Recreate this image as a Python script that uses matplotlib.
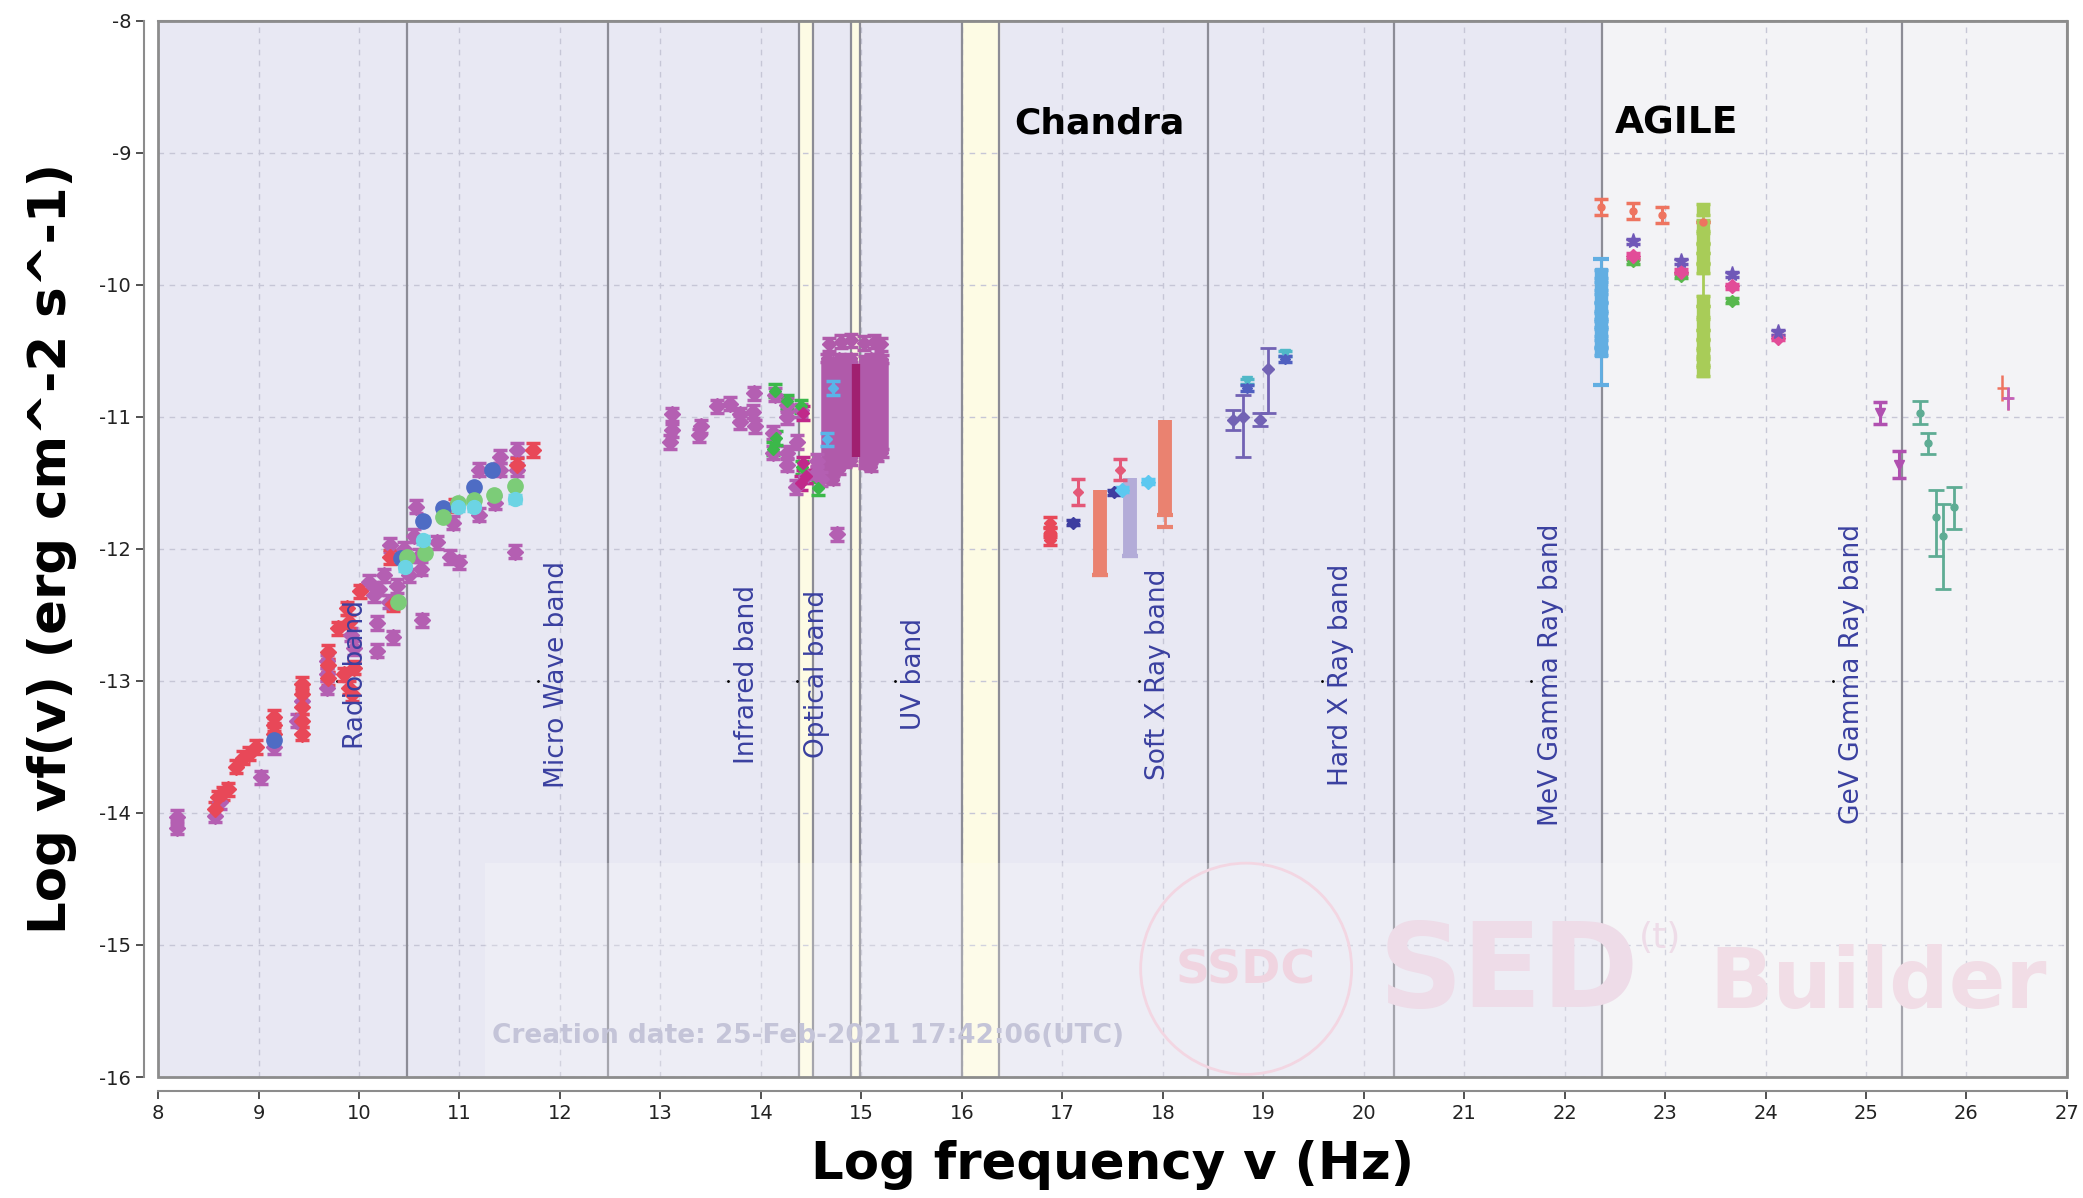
import matplotlib.pyplot as plt
from matplotlib.patches import Rectangle, Ellipse

plt.rcParams['axes.unicode_minus'] = False

# bandes (limites en log nu)
lignes_bandes = [10.48, 12.48, 14.38, 14.52, 14.9, 14.99, 16.0, 16.37, 18.45, 20.3, 22.37, 25.36]
bandes_jaunes = [(14.38, 14.52), (14.9, 14.99), (16.0, 16.37)]
noms_bandes = ["Radio band", "Micro Wave band", "Infrared band", "Optical band", "UV band",
               "Soft X Ray band", "Hard X Ray band", "MeV Gamma Ray band", "GeV Gamma Ray band"]
pos_bandes = [9.78, 11.78, 13.67, 14.36, 15.33, 17.76, 19.58, 21.67, 24.67]

# radio
radio_rouge_x = [8.57, 8.6, 8.65, 8.7, 8.78, 8.85, 8.9, 8.97, 9.15, 9.15, 9.15, 9.43, 9.43, 9.43, 9.43, 9.43,
                 9.69, 9.69, 9.69, 9.79, 9.88, 9.9, 9.95, 9.9, 10.01, 10.34, 10.31, 10.96, 11.57, 11.73, 9.93, 9.85]
radio_rouge_y = [-13.97, -13.88, -13.85, -13.82, -13.65, -13.58, -13.55, -13.5, -13.27, -13.33, -13.4, -13.02,
                 -13.1, -13.2, -13.3, -13.4, -12.78, -12.88, -12.98, -12.6, -12.45, -12.55, -12.9, -13.05,
                 -12.32, -12.42, -12.06, -11.67, -11.36, -11.25, -13.1, -12.95]
radio_violet_x = [8.19, 8.19, 8.57, 8.62, 9.02, 9.15, 9.38, 9.43, 9.68, 9.68, 9.68, 9.92, 9.95, 10.18, 10.18,
                  10.34, 10.1, 10.15, 10.2, 10.25, 10.3, 10.38, 10.31, 10.5, 10.57, 10.6, 10.62, 10.63, 10.78,
                  10.91, 11.0, 10.94, 11.19, 11.19, 11.35, 11.4, 11.4, 11.57, 11.57, 11.55, 10.45, 10.55]
radio_violet_y = [-14.03, -14.11, -14.02, -13.92, -13.73, -13.5, -13.3, -13.15, -12.85, -12.95, -13.05, -12.65,
                  -12.75, -12.77, -12.56, -12.67, -12.25, -12.35, -12.3, -12.2, -12.4, -12.28, -11.97, -12.2,
                  -11.68, -12.05, -12.15, -12.54, -11.95, -12.06, -12.1, -11.8, -11.4, -11.74, -11.65, -11.3,
                  -11.4, -11.25, -11.4, -12.02, -12.0, -11.9]
radio_bleu_x = [9.15, 10.42, 10.64, 10.84, 11.14, 11.32]
radio_bleu_y = [-13.45, -12.07, -11.79, -11.69, -11.53, -11.4]
radio_cyan_x = [10.46, 10.64, 10.99, 11.14, 11.55]
radio_cyan_y = [-12.14, -11.93, -11.68, -11.68, -11.62]
radio_vert_x = [10.48, 10.66, 10.84, 10.99, 11.14, 11.34, 11.55, 10.39]
radio_vert_y = [-12.06, -12.03, -11.76, -11.65, -11.63, -11.59, -11.52, -12.4]

# infrarouge / optique
ir_violet_x = [13.12, 13.12, 13.1, 13.4, 13.38, 13.56, 13.69, 13.79, 13.79, 13.93, 13.92, 13.94, 14.14, 14.26,
               14.26, 14.12, 14.12, 14.26, 14.26, 14.36, 14.4, 14.35, 14.56, 14.56, 14.76, 14.6, 14.45]
ir_violet_y = [-10.98, -11.1, -11.19, -11.07, -11.14, -10.92, -10.9, -10.98, -11.04, -10.82, -10.96, -11.07,
               -10.83, -10.91, -11.0, -11.12, -11.27, -11.27, -11.36, -11.19, -10.95, -11.53, -11.33, -11.42,
               -11.89, -11.47, -11.45]
ir_vert_x = [14.14, 14.26, 14.4, 14.15, 14.12, 14.41, 14.57]
ir_vert_y = [-10.8, -10.88, -10.92, -11.16, -11.24, -11.38, -11.54]
ir_magenta_x = [14.42, 14.42, 14.45, 14.4]
ir_magenta_y = [-10.97, -11.35, -11.45, -11.5]
ir_cyan_x = [14.66, 14.72]
ir_cyan_y = [-11.17, -10.78]

opt_col_x = [14.66, 14.72, 14.78, 14.84, 14.9, 15.04, 15.1, 15.16, 15.21]
opt_col_haut = [-10.55, -10.58, -10.55, -10.57, -10.55, -10.57, -10.55, -10.55, -10.56]
opt_col_bas = [-11.46, -11.48, -11.4, -11.35, -11.33, -11.36, -11.38, -11.3, -11.27]
opt_mag_x = [14.95]
opt_mag_haut = [-10.6]
opt_mag_bas = [-11.3]
opt_sommet_x = [14.68, 14.8, 14.9, 15.03, 15.13, 15.2]
opt_sommet_y = [-10.45, -10.43, -10.42, -10.44, -10.43, -10.45]

# rayons X
x_rouge_x = [16.88, 16.88, 16.88]
x_rouge_y = [-11.8, -11.87, -11.93]
x_rose_x = [17.16, 17.57]
x_rose_y = [-11.57, -11.4]
x_rose_err = [0.1, 0.08]
x_bleu_x = [17.11, 17.51]
x_bleu_y = [-11.8, -11.57]
x_cyan_x = [17.59, 17.85]
x_cyan_y = [-11.55, -11.49]
# barres (min, max)
barres_x = [17.38, 17.67, 18.02]
barres_bas = [-12.2, -12.05, -11.74]
barres_haut = [-11.55, -11.46, -11.02]
barres_couleur = ["#ea8270", "#b3acd8", "#ea8270"]
barres_err_bas = [-12.2, -12.05, -11.83]

hx_x = [18.7, 18.8, 18.97, 19.05]
hx_y = [-11.02, -11.0, -11.02, -10.64]
hx_err_bas = [0.08, 0.3, 0.05, 0.33]
hx_err_haut = [0.07, 0.17, 0.05, 0.16]
hx_cyan_x = [18.84, 19.22]
hx_cyan_y = [-10.73, -10.52]
hx_bleu_x = [18.84, 19.22]
hx_bleu_y = [-10.78, -10.56]

# gamma
g_rouge_x = [22.36, 22.68, 22.97, 23.38]
g_rouge_y = [-9.41, -9.44, -9.47, -9.52]
g_rouge_err = [0.06, 0.06, 0.06, 0.0]
g_bleu_x = [22.36] * 9
g_bleu_y = [-9.92, -10.01, -10.1, -10.17, -10.24, -10.29, -10.36, -10.45, -10.5]
g_bleu_lim = (-9.8, -10.76)
g_vert_x = [23.38] * 14
g_vert_y = [-9.43, -9.55, -9.65, -9.72, -9.8, -9.87, -10.12, -10.2, -10.3, -10.38, -10.45, -10.52, -10.58, -10.65]
g_violet_x = [22.68, 23.16, 23.67, 24.12]
g_violet_y = [-9.67, -9.82, -9.92, -10.36]
g_rose_x = [22.68, 23.16, 23.67, 24.12]
g_rose_y = [-9.78, -9.9, -10.01, -10.4]
g_vert2_x = [22.68, 23.16, 23.67]
g_vert2_y = [-9.82, -9.93, -10.12]

gev_x = [25.54, 25.62, 25.7, 25.77, 25.88]
gev_y = [-10.97, -11.2, -11.76, -11.9, -11.68]
gev_err_bas = [0.08, 0.08, 0.29, 0.4, 0.17]
gev_err_haut = [0.09, 0.08, 0.21, 0.24, 0.15]
gev_rose_x = [25.14, 25.33]
gev_rose_y = [-10.97, -11.36]
gev_rose_err = [0.08, 0.1]
tev_x = [26.35, 26.41]
tev_y = [-10.78, -10.86]
tev_err = [0.1, 0.09]

fig = plt.figure(figsize=(20.83, 11.98), dpi=100)
ax = fig.add_axes([0.0759, 0.101, 0.9164, 0.8815])
ax.set_xlim(8, 27)
ax.set_ylim(-16, -8)

# fonds
ax.axvspan(8, 22.37, color="#e8e8f3", zorder=0)
ax.axvspan(22.37, 27, color="#f3f3f6", zorder=0)
for a, b in bandes_jaunes:
    ax.axvspan(a, b, color="#fdfbe4", zorder=0.5)
for v in lignes_bandes:
    ax.axvline(v, color="#8c8c96", lw=1.6, zorder=1)
ax.grid(True, linestyle=(0, (4, 4)), color="#c6c6d6", lw=1.0, zorder=0.6)
ax.set_axisbelow(True)

# filigrane
ax.add_patch(Rectangle((11.25, -16), 15.7, 1.62, color="white", alpha=0.22, zorder=1.2, lw=0))
ax.add_patch(Ellipse((18.83, -15.18), 2.1, 1.6, fill=False, ec="#f3d6e2", lw=2, zorder=1.3))
ax.text(18.83, -15.2, "SSDC", fontsize=34, fontweight="bold", color="#f0d4e0", ha="center", va="center",
        zorder=1.3)
ax.text(21.45, -15.22, "SED", fontsize=84, fontweight="bold", color="#eedce8", ha="center", va="center", zorder=1.3)
ax.text(22.95, -14.95, "(t)", fontsize=26, color="#eedce8", ha="center", va="center", zorder=1.3)
ax.text(25.12, -15.3, "Builder", fontsize=60, fontweight="bold", color="#f1dde6", ha="center", va="center",
        zorder=1.3)
ax.text(14.47, -15.69, "Creation date: 25-Feb-2021 17:42:06(UTC)", fontsize=19, fontweight="bold",
        color="#c4c4d8", ha="center", va="center", zorder=1.3)

# etiquettes des bandes
for nom, x in zip(noms_bandes, pos_bandes):
    ax.plot(x, -13, marker=".", color="black", ms=2, zorder=2)
    ax.annotate(nom, (x, -12.95), xytext=(14, 0), textcoords="offset points", rotation=90,
                ha="center", va="center", fontsize=19, color="#3a40a0", zorder=6)

ax.text(17.37, -8.78, "Chandra", fontsize=26, fontweight="bold", ha="center", va="center", zorder=6)
ax.text(23.11, -8.78, "AGILE", fontsize=27, fontweight="bold", ha="center", va="center", zorder=6)

def points(xs, ys, couleur, marq="D", ms=8, err=0.05, z=4):
    ax.errorbar(xs, ys, yerr=err, fmt=marq, color=couleur, ms=ms, capsize=5, elinewidth=2.2,
                capthick=2.5, zorder=z)

# radio
points(radio_violet_x, radio_violet_y, "#b45fb2")
points(radio_rouge_x, radio_rouge_y, "#e84858")
points(radio_bleu_x, radio_bleu_y, "#4e6cc4", marq="o", ms=11, err=0.0)
points(radio_vert_x, radio_vert_y, "#7ccc78", marq="o", ms=11, err=0.0)
points(radio_cyan_x, radio_cyan_y, "#6cd4e4", marq="o", ms=10, err=0.03)

# infrarouge / optique
for x, h, b in zip(opt_col_x, opt_col_haut, opt_col_bas):
    ax.vlines(x, b, h, color="#b05aaa", lw=9, zorder=3)
points(opt_col_x, opt_col_haut, "#b05aaa", ms=6, err=0.03, z=3)
points(opt_col_x, opt_col_bas, "#b05aaa", ms=6, err=0.03, z=3)
for x, h, b in zip(opt_mag_x, opt_mag_haut, opt_mag_bas):
    ax.vlines(x, b, h, color="#a02070", lw=6, zorder=3.5)
points(opt_sommet_x, opt_sommet_y, "#b05aaa", ms=7)
points(ir_violet_x, ir_violet_y, "#b45fb2")
points(ir_vert_x, ir_vert_y, "#3cb84a", ms=6)
points(ir_magenta_x, ir_magenta_y, "#c0288a", ms=6)
points(ir_cyan_x, ir_cyan_y, "#5ab4e8", ms=5)

# rayons X
for x, b, h, c, eb in zip(barres_x, barres_bas, barres_haut, barres_couleur, barres_err_bas):
    ax.vlines(x, b, h, color=c, lw=10, zorder=3)
    ax.errorbar(x, b, yerr=[[b - eb], [0]], fmt="none", ecolor=c, capsize=6, elinewidth=2,
                capthick=3, zorder=3)
points(x_rouge_x, x_rouge_y, "#e84858", ms=6, err=0.04)
points(x_rose_x, x_rose_y, "#e45878", ms=5, err=x_rose_err)
points(x_bleu_x, x_bleu_y, "#3e3ea0", ms=6, err=0.02)
points(x_cyan_x, x_cyan_y, "#5cc8f0", ms=7, err=0.02)

ax.errorbar(hx_x, hx_y, yerr=[hx_err_bas, hx_err_haut], fmt="D", color="#7262b4", ms=6, capsize=6,
            elinewidth=2, capthick=2, zorder=4)
points(hx_cyan_x, hx_cyan_y, "#50b8c8", marq="v", ms=7, err=0.02)
points(hx_bleu_x, hx_bleu_y, "#5060c0", ms=5, err=0.02)

# gamma
ax.vlines(g_bleu_x[0], g_bleu_lim[1], g_bleu_lim[0], color="#62aee2", lw=2, zorder=3)
ax.errorbar(g_bleu_x[0], g_bleu_y[0], yerr=[[g_bleu_y[0] - g_bleu_lim[1]], [g_bleu_lim[0] - g_bleu_y[0]]],
            fmt="none", ecolor="#62aee2", capsize=6, capthick=3, zorder=3)
points(g_bleu_x, g_bleu_y, "#62aee2", marq="s", ms=8, err=0.03)
ax.vlines(g_vert_x[0], g_vert_y[-1], g_vert_y[0], color="#a8cc58", lw=2, zorder=3)
points(g_vert_x, g_vert_y, "#a8cc58", marq="s", ms=8, err=0.04)
points(g_rouge_x, g_rouge_y, "#ee7460", marq="o", ms=5, err=g_rouge_err)
points(g_vert2_x, g_vert2_y, "#58b84e", ms=6, err=0.02)
points(g_rose_x, g_rose_y, "#e24c98", ms=7, err=0.02)
points(g_violet_x, g_violet_y, "#7058b8", marq="*", ms=11, err=0.02)

ax.errorbar(gev_x, gev_y, yerr=[gev_err_bas, gev_err_haut], fmt="o", color="#5eac94", ms=5, capsize=6,
            elinewidth=2, capthick=2, zorder=4)
points(gev_rose_x, gev_rose_y, "#b050b0", marq="v", ms=7, err=gev_rose_err)
ax.errorbar(tev_x, tev_y, yerr=tev_err, xerr=0.05, fmt="none", ecolor="#ee7460", elinewidth=1.8, zorder=4)
ax.errorbar(tev_x[1], tev_y[1], yerr=tev_err[1], xerr=0.06, fmt="none", ecolor="#c060c0", elinewidth=1.8, zorder=4)

# axes
for s in ["top", "right"]:
    ax.spines[s].set_color("#8c8c8c")
    ax.spines[s].set_linewidth(1.5)
for s in ["left", "bottom"]:
    ax.spines[s].set_position(("outward", 10))
    ax.spines[s].set_color("#8c8c8c")
    ax.spines[s].set_linewidth(1.5)
ax.add_patch(Rectangle((8, -16), 19, 8, fill=False, ec="#8c8c8c", lw=2, zorder=5, clip_on=False))

ax.set_xticks(range(8, 28))
ax.set_yticks(range(-16, -7))
ax.set_yticklabels([str(v) for v in range(-16, -7)])
ax.tick_params(labelsize=14, colors="#333333", length=6, width=1.2)
ax.tick_params(axis="both", labelcolor="#222222")

ax.set_xlabel("Log frequency v (Hz)", fontsize=37, fontweight="bold", labelpad=12)
ax.set_ylabel("Log vf(v) (erg cm^-2 s^-1)", fontsize=37, fontweight="bold", labelpad=16)

fig.savefig("out.png", dpi=100)
